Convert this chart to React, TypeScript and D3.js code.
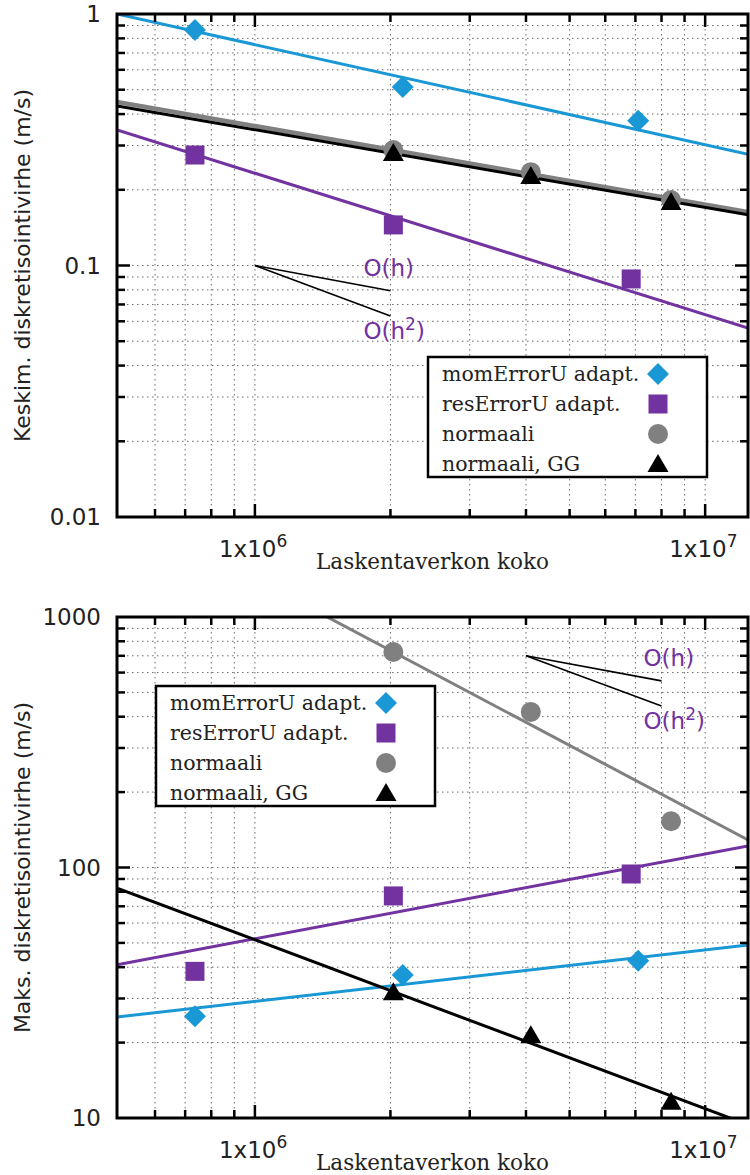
import React from "react";
import * as d3 from "d3";

const W = 750;
const H = 1175;
const BLUE = "#1a98d5";
const PURPLE = "#7232a0";
const GRAY = "#808080";
const BLACK = "#000000";
const SANS = "DejaVu Sans";
const SERIF = "DejaVu Serif";

// laskentaverkon koko (solujen määrä)
const xMom = [7.36e5, 2.13e6, 7.1e6];
const xRes = [7.36e5, 2.03e6, 6.85e6];
const xNorm = [2.03e6, 4.1e6, 8.4e6];
const fitX = [4.94e5, 1.245e7];
const xTickMajor = [1e6, 1e7];
const xTickExp = ["6", "7"];

// keskim. diskretisointivirhe
const meanMom = [0.864, 0.513, 0.376];
const meanRes = [0.275, 0.145, 0.0884];
const meanNorm = [0.288, 0.235, 0.182];
const meanGG = [0.28, 0.227, 0.179];
const meanFitMom = [1.0, 0.277];
const meanFitRes = [0.346, 0.0564];
const meanFitNorm = [0.447, 0.163];
const meanFitGG = [0.431, 0.159];
const meanTicks = [0.01, 0.1, 1];
const meanTickLabels = ["0.01", "0.1", "1"];
const meanSlopeX = [1e6, 2e6];
const meanSlopeY = [0.1, 0.0794, 0.063];

// maks. diskretisointivirhe
const maxMom = [25.5, 37.2, 42.4];
const maxRes = [38.5, 77, 94.2];
const maxNorm = [725, 418, 153];
const maxGG = [31.8, 21.4, 11.6];
const maxFitMom = [25.3, 49.0];
const maxFitRes = [40.9, 122];
const maxFitNorm = [2786, 128.8];
const maxFitGG = [82.8, 9.4];
const maxTicks = [10, 100, 1000];
const maxTickLabels = ["10", "100", "1000"];
const maxSlopeX = [4e6, 8e6];
const maxSlopeY = [700, 556, 441];

const legendLabels = ["momErrorU adapt.", "resErrorU adapt.", "normaali", "normaali, GG"];
const legendColors = [BLUE, PURPLE, GRAY, BLACK];
const legendShapes = ["diamond", "square", "circle", "triangle"];

const PL = 117;
const PR = 748;
const x = d3.scaleLog().domain([fitX[0], fitX[1]]).range([PL, PR]);

function Marker({ shape, cx, cy, color }: { shape: string; cx: number; cy: number; color: string }) {
  if (shape === "diamond")
    return <path d={`M${cx},${cy - 11}L${cx + 11},${cy}L${cx},${cy + 11}L${cx - 11},${cy}Z`} fill={color} />;
  if (shape === "square") return <rect x={cx - 9.5} y={cy - 9.5} width={19} height={19} fill={color} />;
  if (shape === "circle") return <circle cx={cx} cy={cy} r={10} fill={color} />;
  return <path d={`M${cx},${cy - 10}L${cx + 10.5},${cy + 8}L${cx - 10.5},${cy + 8}Z`} fill={color} />;
}

type Props = {
  id: string;
  top: number;
  bottom: number;
  yDomain: number[];
  ticks: number[];
  tickLabels: string[];
  yLabel: string;
  data: { xs: number[]; ys: number[]; fit: number[]; width: number }[];
  slopeX: number[];
  slopeY: number[];
  labelDx: number;
  legendX: number;
  legendY: number;
};

function Panel(p: Props) {
  const y = d3.scaleLog().domain(p.yDomain).range([p.bottom, p.top]);
  const xMinor = x.ticks().filter((t) => x(t) > PL + 4 && x(t) < PR - 4);
  const yMinor = y.ticks().filter((t) => y(t) < p.bottom - 3 && y(t) > p.top + 3);
  const isMajor = (t: number) => Math.abs(Math.log10(t) - Math.round(Math.log10(t))) < 1e-6;
  const line = d3.line<[number, number]>().x((d) => x(d[0])).y((d) => y(d[1]));
  const midY = (p.top + p.bottom) / 2;
  const sx0 = x(p.slopeX[0]);
  const sx1 = x(p.slopeX[1]);
  return (
    <g>
      <defs>
        <clipPath id={p.id}>
          <rect x={PL} y={p.top} width={PR - PL} height={p.bottom - p.top} />
        </clipPath>
      </defs>
      {/* grid */}
      <g stroke="#6a6a6a" strokeWidth={1} strokeDasharray="1.5,3.5">
        {xMinor.map((t, i) => (
          <line key={"gx" + i} x1={x(t)} x2={x(t)} y1={p.top} y2={p.bottom} />
        ))}
        {yMinor.map((t, i) => (
          <line key={"gy" + i} x1={PL} x2={PR} y1={y(t)} y2={y(t)} />
        ))}
      </g>
      {/* sovitteet */}
      <g clipPath={`url(#${p.id})`} fill="none">
        {p.data.map((s, i) => (
          <path
            key={"f" + i}
            d={line([
              [fitX[0], s.fit[0]],
              [fitX[1], s.fit[1]],
            ])!}
            stroke={legendColors[i]}
            strokeWidth={s.width}
          />
        ))}
      </g>
      {p.data.map((s, i) =>
        s.xs.map((xv, j) => (
          <Marker key={`m${i}-${j}`} shape={legendShapes[i]} cx={x(xv)} cy={y(s.ys[j])} color={legendColors[i]} />
        ))
      )}
      {/* kertaluvut */}
      <g stroke={BLACK} strokeWidth={1.6}>
        <line x1={sx0} y1={y(p.slopeY[0])} x2={sx1} y2={y(p.slopeY[1])} />
        <line x1={sx0} y1={y(p.slopeY[0])} x2={sx1} y2={y(p.slopeY[2])} />
      </g>
      <g fill={PURPLE} fontFamily={SANS} fontSize={23}>
        <text x={sx1 + p.labelDx} y={y(p.slopeY[0]) + 10}>O(h)</text>
        <text x={sx1 + p.labelDx} y={y(p.slopeY[2]) + 23}>
          O(h<tspan dy={-9} fontSize={17}>2</tspan>
          <tspan dy={9}>)</tspan>
        </text>
      </g>
      {/* selite */}
      <rect x={p.legendX} y={p.legendY} width={279} height={120} fill="#fff" stroke={BLACK} strokeWidth={2.5} />
      {legendLabels.map((l, i) => (
        <g key={"l" + i}>
          <text
            x={p.legendX + 14}
            y={p.legendY + 17 + i * 30}
            dy="0.35em"
            fontFamily={SERIF}
            fontSize={20.5}
            fill="#222"
          >
            {l}
          </text>
          <Marker shape={legendShapes[i]} cx={p.legendX + 230} cy={p.legendY + 17 + i * 30} color={legendColors[i]} />
        </g>
      ))}
      {/* akselit */}
      <g stroke={BLACK} strokeWidth={2.5}>
        {xMinor.map((t, i) => {
          const len = isMajor(t) ? 13 : 8;
          return (
            <g key={"tx" + i}>
              <line x1={x(t)} x2={x(t)} y1={p.bottom} y2={p.bottom - len} />
              <line x1={x(t)} x2={x(t)} y1={p.top} y2={p.top + len} />
            </g>
          );
        })}
        {yMinor.map((t, i) => {
          const len = isMajor(t) ? 13 : 8;
          return (
            <g key={"ty" + i}>
              <line x1={PL} x2={PL + len} y1={y(t)} y2={y(t)} />
              <line x1={PR} x2={PR - len} y1={y(t)} y2={y(t)} />
            </g>
          );
        })}
      </g>
      <rect x={PL} y={p.top} width={PR - PL} height={p.bottom - p.top} fill="none" stroke={BLACK} strokeWidth={3} />
      <g fontFamily={SANS} fontSize={23} fill="#222">
        {p.ticks.map((t, i) => (
          <text key={"yl" + i} x={101} y={y(t)} dy="0.36em" textAnchor="end">
            {p.tickLabels[i]}
          </text>
        ))}
        {xTickMajor.map((t, i) => (
          <text key={"xl" + i} x={x(t) - 36} y={p.bottom + 40}>
            1x10<tspan dy={-10} fontSize={17}>{xTickExp[i]}</tspan>
          </text>
        ))}
      </g>
      <text
        transform={`translate(30,${midY}) rotate(-90)`}
        textAnchor="middle"
        fontFamily={SANS}
        fontSize={22}
        fill="#222"
      >
        {p.yLabel}
      </text>
      <text x={(PL + PR) / 2} y={p.bottom + 52} textAnchor="middle" fontFamily={SERIF} fontSize={21.5} fill="#222">
        Laskentaverkon koko
      </text>
    </g>
  );
}

export default function App() {
  return (
    <svg width={W} height={H} style={{ position: "absolute", left: 0, top: 0, background: "#fff" }}>
      <Panel
        id="clipTop"
        top={14}
        bottom={517}
        yDomain={[0.01, 1]}
        ticks={meanTicks}
        tickLabels={meanTickLabels}
        yLabel="Keskim. diskretisointivirhe (m/s)"
        data={[
          { xs: xMom, ys: meanMom, fit: meanFitMom, width: 3 },
          { xs: xRes, ys: meanRes, fit: meanFitRes, width: 3 },
          { xs: xNorm, ys: meanNorm, fit: meanFitNorm, width: 4.5 },
          { xs: xNorm, ys: meanGG, fit: meanFitGG, width: 3 },
        ]}
        slopeX={meanSlopeX}
        slopeY={meanSlopeY}
        labelDx={-27}
        legendX={428}
        legendY={357}
      />
      <Panel
        id="clipBottom"
        top={617}
        bottom={1118}
        yDomain={[10, 1000]}
        ticks={maxTicks}
        tickLabels={maxTickLabels}
        yLabel="Maks. diskretisointivirhe (m/s)"
        data={[
          { xs: xMom, ys: maxMom, fit: maxFitMom, width: 3 },
          { xs: xRes, ys: maxRes, fit: maxFitRes, width: 3 },
          { xs: xNorm, ys: maxNorm, fit: maxFitNorm, width: 3 },
          { xs: xNorm, ys: maxGG, fit: maxFitGG, width: 3 },
        ]}
        slopeX={maxSlopeX}
        slopeY={maxSlopeY}
        labelDx={-18}
        legendX={156}
        legendY={686}
      />
    </svg>
  );
}
